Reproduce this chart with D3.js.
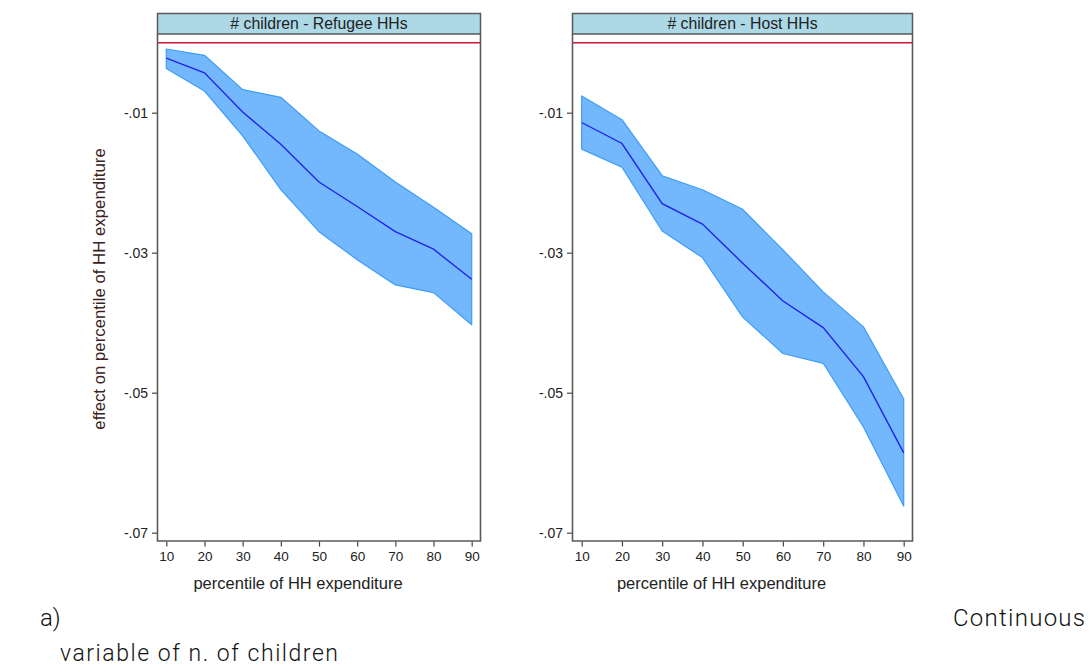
<!DOCTYPE html>
<html>
<head>
<meta charset="utf-8">
<script src="https://cdn.jsdelivr.net/npm/d3@7"></script>
<style>
  html, body { margin: 0; padding: 0; background: #fff; }
  svg { display: block; }
</style>
</head>
<body>
<svg id="chart" width="1092" height="668"></svg>
<script>
// ---- data ----
const percentiles = [10, 20, 30, 40, 50, 60, 70, 80, 90];
const refugeeMean  = [-0.0022, -0.0043, -0.0099, -0.0145, -0.0199, -0.0234, -0.0270, -0.0295, -0.0338];
const refugeeUpper = [-0.0009, -0.0018, -0.0067, -0.0078, -0.0126, -0.0159, -0.0199, -0.0235, -0.0273];
const refugeeLower = [-0.0037, -0.0069, -0.0133, -0.0210, -0.0270, -0.0310, -0.0346, -0.0357, -0.0403];
const hostMean  = [-0.0114, -0.0144, -0.0230, -0.0259, -0.0315, -0.0369, -0.0407, -0.0477, -0.0586];
const hostUpper = [-0.0076, -0.0110, -0.0190, -0.0210, -0.0238, -0.0296, -0.0356, -0.0406, -0.0509];
const hostLower = [-0.0152, -0.0178, -0.0269, -0.0307, -0.0392, -0.0444, -0.0458, -0.0549, -0.0662];
const yTicks = [-0.01, -0.03, -0.05, -0.07];
const xTicks = [10, 20, 30, 40, 50, 60, 70, 80, 90];
const panelTitles = ["# children - Refugee HHs", "# children - Host HHs"];
const xTitle = "percentile of HH expenditure";
const yTitle = "effect on percentile of HH expenditure";

const panels = [
  { title: panelTitles[0], mean: refugeeMean, upper: refugeeUpper, lower: refugeeLower,
    frameL: 157.5, frameR: 480.5, x10: 166.3, x90: 471.7 },
  { title: panelTitles[1], mean: hostMean, upper: hostUpper, lower: hostLower,
    frameL: 572.5, frameR: 912.5, x10: 581.7, x90: 903.7 }
];

const svg = d3.select("#chart");
const font = "'Liberation Sans', Arial, sans-serif";
const stripTop = 13.5, stripBot = 34, frameBot = 541;
const y = d3.scaleLinear().domain([0, -0.07]).range([42.7, 532.7]);
const fmt = d => (d < 0 ? "-" : "") + d3.format(".2f")(Math.abs(d)).replace("0.", ".");

panels.forEach((p, i) => {
  const x = d3.scaleLinear().domain([10, 90]).range([p.x10, p.x90]);
  const g = svg.append("g");

  // strip
  g.append("rect")
    .attr("x", p.frameL).attr("y", stripTop)
    .attr("width", p.frameR - p.frameL).attr("height", stripBot - stripTop)
    .attr("fill", "#add8e6").attr("stroke", "#5a5a5a").attr("stroke-width", 1.5);
  g.append("text")
    .attr("x", (p.frameL + p.frameR) / 2).attr("y", 29)
    .attr("text-anchor", "middle")
    .attr("font-family", font).attr("font-size", 15.8).attr("fill", "#222")
    .text(p.title);

  // CI band
  const area = d3.area()
    .x((d, j) => x(percentiles[j]))
    .y0((d, j) => y(p.lower[j]))
    .y1((d, j) => y(p.upper[j]));
  g.append("path")
    .attr("d", area(percentiles))
    .attr("fill", "#73b8fd").attr("stroke", "#3d9cf8").attr("stroke-width", 1.2)
    .attr("stroke-linejoin", "round");

  // mean line
  const line = d3.line().x((d, j) => x(percentiles[j])).y((d, j) => y(p.mean[j]));
  g.append("path")
    .attr("d", line(percentiles))
    .attr("fill", "none").attr("stroke", "#2323e6").attr("stroke-width", 1.4);

  // zero line
  g.append("line")
    .attr("x1", p.frameL).attr("x2", p.frameR)
    .attr("y1", y(0)).attr("y2", y(0))
    .attr("stroke", "#d0123c").attr("stroke-width", 1.4);

  // frame (left, right, bottom)
  g.append("path")
    .attr("d", `M${p.frameL},${stripBot}V${frameBot}H${p.frameR}V${stripBot}`)
    .attr("fill", "none").attr("stroke", "#5a5a5a").attr("stroke-width", 1.6);

  // y axis
  const ya = d3.axisLeft(y).tickValues(yTicks).tickFormat(fmt).tickSize(5).tickPadding(4);
  const yg = g.append("g").attr("transform", `translate(${p.frameL - 0.5},0)`).call(ya);
  yg.select(".domain").remove();
  yg.selectAll(".tick line").attr("stroke", "#444").attr("stroke-width", 1.2);
  yg.selectAll(".tick text").attr("font-family", font).attr("font-size", 14).attr("fill", "#222");

  // x axis
  const xa = d3.axisBottom(x).tickValues(xTicks).tickSize(5).tickPadding(5);
  const xg = g.append("g").attr("transform", `translate(0,${frameBot + 0.5})`).call(xa);
  xg.select(".domain").remove();
  xg.selectAll(".tick line").attr("stroke", "#444").attr("stroke-width", 1.2);
  xg.selectAll(".tick text").attr("font-family", font).attr("font-size", 13.5).attr("fill", "#222");

  g.append("text")
    .attr("x", (p.frameL + p.frameR) / 2 - 21).attr("y", 589)
    .attr("text-anchor", "middle")
    .attr("font-family", font).attr("font-size", 16.5).attr("fill", "#222")
    .text(xTitle);

  if (i === 0) {
    g.append("text")
      .attr("transform", `translate(105,289) rotate(-90)`)
      .attr("text-anchor", "middle")
      .attr("font-family", font).attr("font-size", 16.8).attr("fill", "#3a2222")
      .text(yTitle);
  }
});

// caption
const capFont = "Roboto, 'Noto Sans', sans-serif";
svg.append("text").attr("x", 40).attr("y", 626)
  .attr("font-family", capFont).attr("font-weight", 300).attr("font-size", 24).attr("fill", "#111")
  .text("a)");
svg.append("text").attr("x", 953).attr("y", 626)
  .attr("font-family", capFont).attr("font-weight", 300).attr("font-size", 24).attr("fill", "#111")
  .attr("textLength", 132).attr("lengthAdjust", "spacing")
  .text("Continuous");
svg.append("text").attr("x", 60).attr("y", 661)
  .attr("font-family", capFont).attr("font-weight", 300).attr("font-size", 23).attr("fill", "#111")
  .attr("textLength", 278).attr("lengthAdjust", "spacing")
  .text("variable of n. of children");
</script>
</body>
</html>
